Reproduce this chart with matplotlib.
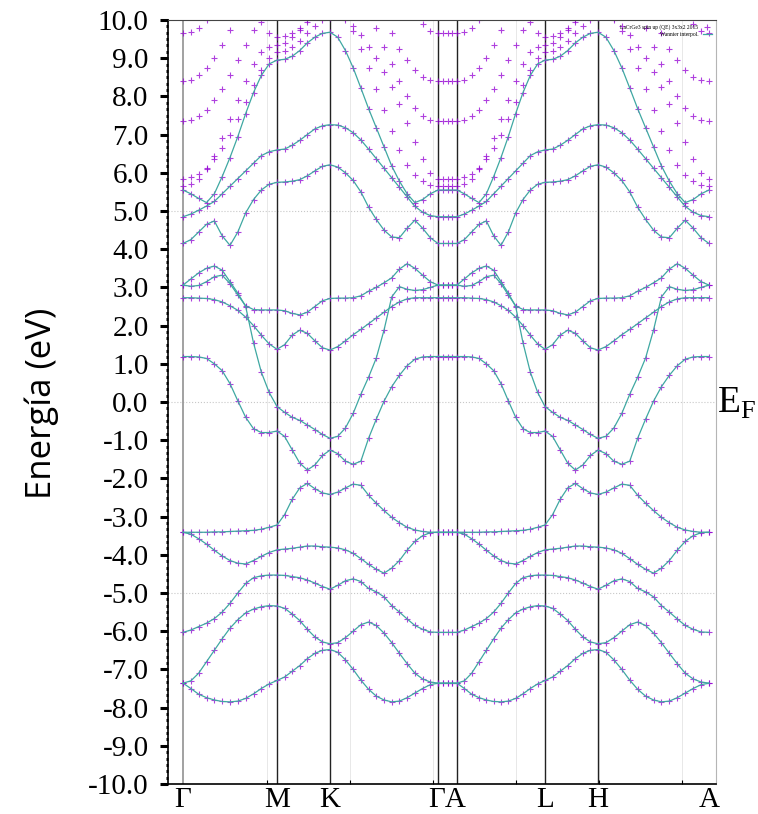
import numpy as np
import matplotlib.pyplot as plt
from matplotlib.ticker import MultipleLocator, FormatStrFormatter

plt.rcParams['font.family'] = ['Liberation Serif', 'DejaVu Serif']

# k-path: Γ-M-K-Γ | Γ-A | A-L-H-A  (path coordinate, arbitrary units)
k_nodes = [0, 94, 147, 255, 274, 362, 415, 526]
k_tick_pos = [0, 94, 147, 264.5, 362, 415, 526]
k_tick_lab = ['Γ', 'M', 'K', 'ΓA', 'L', 'H', 'A']
grid_pos = [84, 167, 250, 333, 416, 499]

# energies (eV) sampled along Γ-M (13 pts), M-K (7 more), K-Γ (14 more);
# the A-L-H-A branch repeats the same dispersion, Γ-A is flat
U1 = [5.55, 5.45, 5.33, 5.22, 5.45, 5.90, 6.40, 6.95, 7.55, 8.10, 8.55, 8.85, 8.95,
      8.97, 9.05, 9.20, 9.40, 9.55, 9.65, 9.68,
      9.55, 9.20, 8.75, 8.22, 7.68, 7.18, 6.68, 6.18, 5.78, 5.45, 5.22, 5.30, 5.45, 5.55]
U2 = [4.85, 4.92, 5.02, 5.13, 5.25, 5.45, 5.65, 5.85, 6.05, 6.25, 6.45, 6.55, 6.60,
      6.62, 6.72, 6.85, 7.00, 7.15, 7.23, 7.26,
      7.25, 7.18, 7.05, 6.86, 6.62, 6.37, 6.12, 5.87, 5.62, 5.37, 5.12, 4.97, 4.88, 4.85]
U3 = [4.15, 4.25, 4.45, 4.65, 4.74, 4.35, 4.10, 4.45, 4.95, 5.30, 5.55, 5.70, 5.75,
      5.76, 5.78, 5.82, 5.92, 6.05, 6.17, 6.21,
      6.15, 6.00, 5.80, 5.50, 5.10, 4.78, 4.50, 4.32, 4.30, 4.55, 4.76, 4.55, 4.30, 4.15]
P = [3.06, 3.22, 3.38, 3.50, 3.56, 3.45, 3.15, 2.85, 2.50, 1.55, 0.78, 0.25, -0.12,
     -0.27, -0.40, -0.48, -0.60, -0.72, -0.85, -0.95,
     -0.90, -0.68, -0.30, 0.20, 0.65, 1.15, 1.88, 2.75, 3.02, 2.95, 2.92, 2.94, 3.00, 3.06]
Q = [3.06, 3.03, 3.05, 3.15, 3.28, 3.32, 3.10, 2.80, 2.52, 2.42, 2.41, 2.41, 2.41,
     2.39, 2.32, 2.28, 2.35, 2.50, 2.65, 2.71,
     2.72, 2.72, 2.73, 2.78, 2.90, 3.00, 3.12, 3.25, 3.48, 3.62, 3.50, 3.32, 3.15, 3.06]
R = [2.73, 2.73, 2.72, 2.71, 2.68, 2.62, 2.52, 2.40, 2.22, 2.00, 1.75, 1.52, 1.38,
     1.50, 1.75, 1.88, 1.80, 1.60, 1.42, 1.36,
     1.45, 1.60, 1.76, 1.90, 2.05, 2.20, 2.35, 2.50, 2.62, 2.70, 2.73, 2.73, 2.73, 2.73]
S = [1.19, 1.19, 1.18, 1.14, 1.00, 0.82, 0.48, 0.03, -0.40, -0.70, -0.80, -0.80, -0.76,
     -0.90, -1.25, -1.60, -1.78, -1.65, -1.40, -1.26,
     -1.35, -1.55, -1.63, -1.55, -0.95, -0.45, 0.02, 0.40, 0.70, 0.95, 1.12, 1.18, 1.19, 1.19]
L1 = [-3.41, -3.41, -3.41, -3.41, -3.40, -3.40, -3.39, -3.38, -3.37, -3.36, -3.33, -3.28, -3.22,
      -2.95, -2.55, -2.25, -2.13, -2.27, -2.38, -2.42,
      -2.36, -2.25, -2.15, -2.18, -2.44, -2.65, -2.84, -3.02, -3.16, -3.28, -3.35, -3.39, -3.41, -3.41]
L2 = [-3.41, -3.46, -3.58, -3.72, -3.88, -4.03, -4.15, -4.22, -4.24, -4.15, -4.04, -3.94, -3.87,
      -3.85, -3.83, -3.80, -3.77, -3.77, -3.79, -3.80,
      -3.82, -3.87, -3.96, -4.10, -4.25, -4.38, -4.48, -4.35, -4.15, -3.88, -3.65, -3.50, -3.42, -3.41]
L3 = [-6.03, -5.97, -5.88, -5.79, -5.67, -5.50, -5.27, -5.00, -4.75, -4.60, -4.55, -4.53, -4.53,
      -4.54, -4.57, -4.60, -4.66, -4.74, -4.83, -4.90,
      -4.80, -4.68, -4.63, -4.70, -4.88, -4.97, -5.10, -5.33, -5.50, -5.68, -5.85, -5.95, -6.02, -6.03]
L4 = [-7.36, -7.30, -7.10, -6.80, -6.50, -6.20, -5.92, -5.70, -5.52, -5.42, -5.36, -5.33, -5.34,
      -5.40, -5.55, -5.72, -5.95, -6.15, -6.28, -6.33,
      -6.30, -6.17, -6.00, -5.83, -5.76, -5.85, -6.05, -6.30, -6.58, -6.85, -7.10, -7.25, -7.33, -7.36]
L5 = [-7.36, -7.50, -7.65, -7.74, -7.80, -7.84, -7.85, -7.83, -7.76, -7.64, -7.50, -7.38, -7.29,
      -7.20, -7.05, -6.90, -6.72, -6.58, -6.50, -6.48,
      -6.55, -6.75, -7.00, -7.28, -7.52, -7.70, -7.80, -7.85, -7.83, -7.74, -7.62, -7.50, -7.40, -7.36]

# higher DFT bands without a Wannier counterpart (nan = above the window)
nan = np.nan
D1 = [5.65, 5.70, 5.85, 6.10, 6.45, 6.90, 7.40, 7.90, 8.40, 8.85, 9.15, 9.30, 9.35,
      9.40, 9.55, 9.75, 9.95, 10.15, 10.30, 10.35,
      10.30, 10.05, 9.70, 9.25, 8.75, 8.20, 7.65, 7.10, 6.60, 6.20, 5.95, 5.78, 5.68, 5.65]
D2 = [5.85, 5.88, 5.97, 6.12, 6.35, 6.65, 7.00, 7.40, 7.85, 8.30, 8.70, 9.00, 9.15,
      9.20, 9.30, 9.45, 9.65, 9.85, 10.00, 10.05,
      10.10, 10.00, 9.85, 9.60, 9.30, 9.00, 8.65, 8.25, 7.80, 7.30, 6.80, 6.35, 6.00, 5.85]
D3 = [7.35, 7.38, 7.48, 7.65, 7.90, 8.20, 8.55, 8.95, 9.35, 9.75, 10.10, 10.40, nan,
      nan, nan, nan, nan, nan, nan, nan,
      nan, nan, nan, 10.65, 10.25, 9.80, 9.30, 8.85, 8.40, 8.00, 7.70, 7.48, 7.38, 7.35]
D4 = [8.40, 8.43, 8.55, 8.75, 9.00, 9.35, 9.75, 10.20, nan, nan, nan, nan, nan,
      nan, nan, nan, nan, nan, nan, nan,
      nan, nan, nan, nan, nan, 10.60, 10.10, 9.65, 9.25, 8.95, 8.68, 8.52, 8.43, 8.40]
D5 = [9.65, 9.68, 9.80, 10.00, 10.30, nan, nan, nan, nan, nan, nan, nan, nan,
      nan, nan, nan, nan, nan, nan, nan,
      nan, nan, nan, nan, nan, nan, nan, nan, nan, 10.60, 10.20, 9.90, 9.72, 9.65]
D6 = [nan, nan, nan, nan, nan, nan, nan, nan, nan, 10.40, 9.95, 9.65, 9.55,
      9.58, 9.65, 9.80, 10.00, 10.25, nan, nan,
      nan, nan, nan, nan, nan, nan, nan, nan, nan, nan, nan, nan, nan, nan]

wannier_bands = [U1, U2, U3, P, Q, R, S, L1, L2, L3, L4, L5]
dft_only = [D1, D2, D3, D4, D5, D6]


def branch(n):
    return np.concatenate([np.linspace(n[0], n[1], 13),
                           np.linspace(n[1], n[2], 8)[1:],
                           np.linspace(n[2], n[3], 15)[1:]])


k_ga = np.linspace(k_nodes[3], k_nodes[4], 5)[1:-1]
kpath = np.concatenate([branch(k_nodes[0:4]), k_ga, branch(k_nodes[4:8])])


def full(e):
    e = list(e)
    return np.array(e + [e[-1]] * len(k_ga) + e)


purple = '#9400d3'
teal = '#3fa8a2'

fig = plt.figure(figsize=(7.58, 8.14), dpi=100)
ax = fig.add_axes([168 / 758, 30 / 814, 548 / 758, 764 / 814])

for y in [-5, 0, 5]:
    ax.axhline(y, color='#c8c8c8', lw=0.8, ls=':', zorder=0)
for x in grid_pos:
    ax.axvline(x, color='#e4e4e4', lw=0.6, zorder=0)
ax.axvline(k_nodes[0], color='#9a9a9a', lw=1.3, zorder=1)
for x in k_nodes[1:7]:
    ax.axvline(x, color='#222222', lw=1.0, zorder=1)

h_dft = None
for e in dft_only + wannier_bands:
    h, = ax.plot(kpath, full(e), ls='none', marker='+', ms=5, mew=0.8,
                 color=purple, alpha=0.75, zorder=2)
    h_dft = h_dft or h
h_wan = None
for e in wannier_bands:
    h, = ax.plot(kpath, full(e), color=teal, lw=0.9, zorder=3)
    h_wan = h_wan or h

ax.set_xlim(-15, 533)
ax.set_ylim(-10, 10)

ax.yaxis.set_major_locator(MultipleLocator(1))
ax.yaxis.set_minor_locator(MultipleLocator(1 / 6))
ax.yaxis.set_major_formatter(FormatStrFormatter('%.1f'))
ax.tick_params(axis='y', which='major', direction='out', length=6, width=2.2,
               pad=8, labelsize=21, right=False)
ax.tick_params(axis='y', which='minor', direction='out', length=1.5, width=2.2,
               right=False)
ax.set_xticks(k_tick_pos)
ax.set_xticklabels(k_tick_lab)
ax.set_xticks(grid_pos, minor=True)
ax.tick_params(axis='x', which='major', length=0, pad=2, labelsize=21)
ax.tick_params(axis='x', which='minor', direction='in', length=3, width=0.8,
               top=False)

ax.spines['left'].set_linewidth(1.2)
ax.spines['bottom'].set_linewidth(1.2)
ax.spines['top'].set_color('#444444')
ax.spines['right'].set_color('#b5b5b5')

ax.legend([h_dft, h_wan], ['LaCrGe3 spin up (QE) 3x3x2 2015', 'Wannier interpol.'],
          loc='upper right', fontsize=4, frameon=False, markerfirst=False,
          handlelength=1.6, borderaxespad=0.4, labelspacing=0.3)

fig.text(0.055, 0.505, 'Energía (eV)', rotation=90, fontsize=25,
         family='Open Sans', ha='center', va='center')
fig.text(0.946, 0.505, r'E$_\mathregular{F}$', fontsize=27,
         ha='left', va='center')

fig.savefig('out.png', dpi=100)
